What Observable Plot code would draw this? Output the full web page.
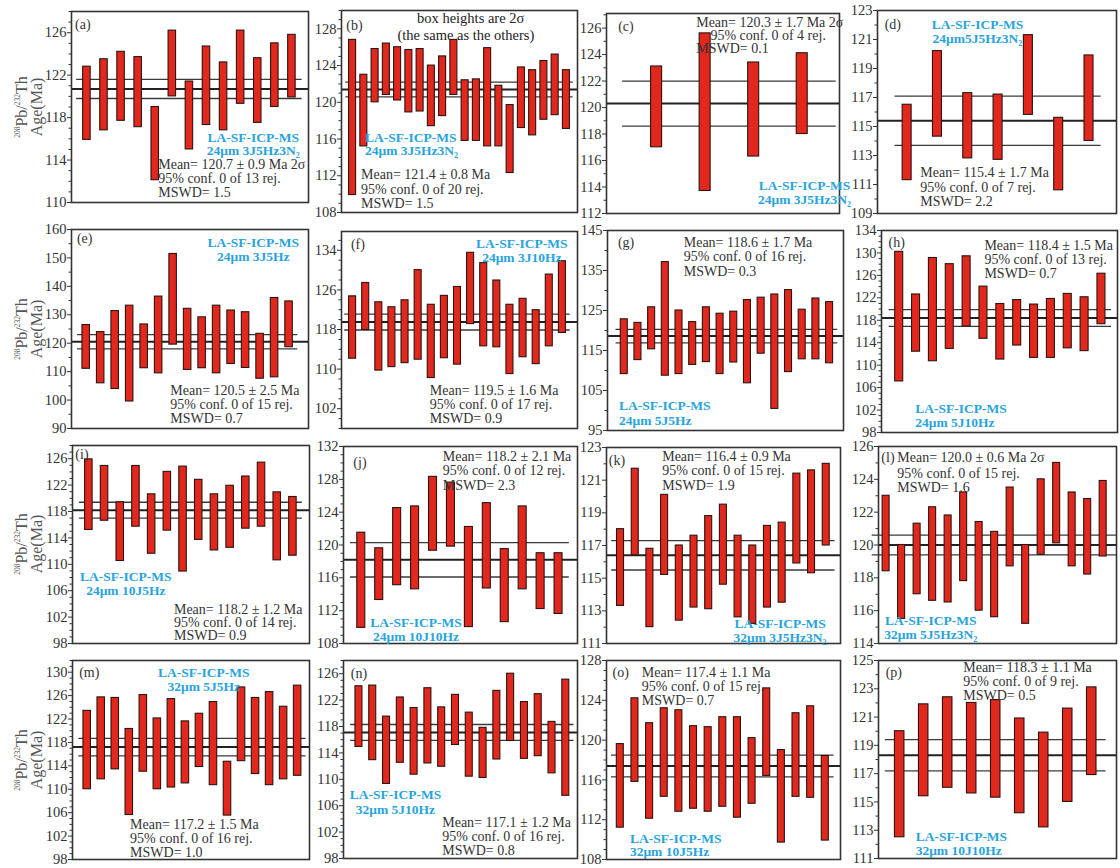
<!DOCTYPE html>
<html>
<head>
<meta charset="utf-8">
<script src="https://cdn.jsdelivr.net/npm/d3@7"></script>
<script src="https://cdn.jsdelivr.net/npm/@observablehq/plot@0.6"></script>
<style>
  body { margin: 0; background: #fff; }
  #fig { position: relative; width: 1120px; height: 868px; overflow: hidden; background: #fff;
         font-family: "Liberation Serif", "Times New Roman", serif; }
  .panel { position: absolute; }
  .panel svg { overflow: visible; }
  .ytitle { position: absolute; width: 160px; height: 32px; text-align: center; color: #555;
            font-size: 16px; line-height: 15px; transform: rotate(-90deg); white-space: nowrap; }
  .ytitle sup { font-size: 7.5px; vertical-align: 7px; }
</style>
</head>
<body>
<div id="fig"></div>
<script>
// ---- 208Pb/232Th spot ages: lower and upper ends of each 2σ box (Ma) ----
const ageA_lo = [115.9,116.8,117.7,117.1,112.1,120.0,115.0,117.3,116.8,119.3,117.5,119.0,119.9];
const ageA_hi = [122.8,123.5,124.2,123.7,119.0,126.2,121.4,124.7,123.2,126.2,123.6,125.0,125.8];
const ageB_lo = [109.9,115.2,120.0,120.8,120.2,118.9,119.0,117.4,118.5,120.8,115.8,115.8,115.2,115.2,112.3,117.2,116.4,118.1,118.6,117.1];
const ageB_hi = [126.8,123.0,125.8,126.4,126.0,125.7,125.8,124.0,125.0,126.8,122.4,122.5,125.9,121.8,119.7,123.8,123.5,124.5,125.2,123.5];
const ageC_lo = [117.0,113.7,116.3,118.0];
const ageC_hi = [123.1,125.6,123.4,124.1];
const ageD_lo = [111.3,114.3,112.8,112.7,115.8,110.6,114.0];
const ageD_hi = [116.5,120.2,117.3,117.2,121.3,115.6,119.9];
const ageE_lo = [111.0,105.9,103.9,99.5,111.2,109.4,119.5,110.6,111.2,109.4,112.7,111.3,107.5,108.0,118.6];
const ageE_hi = [126.4,123.9,131.3,133.2,126.6,136.4,151.4,132.1,129.1,133.2,131.5,130.9,123.3,135.9,134.7];
const ageF_lo = [112.1,117.9,109.7,110.4,111.2,111.9,108.2,112.2,110.9,119.1,114.6,114.4,109.0,112.4,111.0,114.6,117.3];
const ageF_hi = [124.7,127.4,123.5,122.5,123.9,130.0,123.0,124.8,126.6,133.5,131.4,127.9,123.0,124.2,121.9,129.1,131.8];
const ageG_lo = [109.1,112.6,115.3,108.7,109.1,111.4,112.1,109.1,112.0,106.8,114.2,100.4,109.6,112.8,112.8,111.8];
const ageG_hi = [122.8,121.9,125.8,137.1,125.0,122.1,125.8,124.2,124.7,127.6,128.2,129.0,130.1,125.2,128.0,127.1];
const ageH_lo = [107.1,112.4,110.7,112.9,116.9,114.7,111.0,113.5,111.3,111.3,113.0,112.5,117.3];
const ageH_hi = [130.2,122.6,129.1,128.0,129.4,124.0,120.9,121.6,120.8,121.8,122.7,122.1,126.3];
const ageI_lo = [115.2,116.6,110.5,115.7,111.6,115.1,108.9,113.7,112.1,112.5,115.4,115.7,110.6,111.3];
const ageI_hi = [125.9,124.9,119.4,124.9,120.6,124.0,124.8,122.8,120.6,121.9,123.3,125.4,120.9,120.2];
const ageJ_lo = [109.9,113.3,115.1,114.6,119.3,119.8,110.0,114.7,110.6,114.6,112.2,111.6];
const ageJ_hi = [121.5,119.6,124.5,124.7,128.3,127.6,122.2,125.1,119.5,124.7,119.0,119.0];
const ageK_lo = [113.3,116.4,112.0,115.2,112.4,113.2,113.1,114.6,112.6,112.2,113.2,113.5,115.9,115.3,117.0];
const ageK_hi = [118.0,121.7,116.8,120.1,117.0,117.6,118.8,119.5,117.6,117.0,118.2,118.4,121.4,121.6,122.0];
const ageL_lo = [118.4,115.5,117.0,116.6,116.5,117.8,116.0,115.6,118.7,115.2,119.4,120.1,118.7,118.2,119.3];
const ageL_hi = [123.0,120.0,121.3,122.3,121.8,123.2,121.4,120.8,123.5,120.0,124.0,125.0,123.2,122.8,123.9];
const ageM_lo = [110.0,111.7,113.4,105.6,113.0,110.0,110.3,111.0,113.8,110.7,105.5,114.8,112.6,110.7,111.7,112.3];
const ageM_hi = [123.4,125.7,125.6,120.3,126.1,122.1,125.4,121.6,122.9,124.9,114.7,127.4,125.6,126.6,124.1,127.7];
const ageN_lo = [114.9,112.9,109.3,112.5,110.7,112.4,111.9,115.2,110.4,110.2,113.0,115.8,113.1,113.5,110.9,107.5];
const ageN_hi = [124.1,124.2,119.5,122.4,120.8,123.8,120.9,122.8,120.1,117.8,123.4,126.0,121.7,122.9,118.7,125.1];
const ageO_lo = [111.2,115.8,112.1,114.3,112.8,113.1,112.8,113.3,112.2,113.6,116.4,109.7,114.3,114.2,109.9];
const ageO_hi = [119.6,124.2,121.7,123.2,123.0,121.4,121.3,122.3,122.3,120.2,125.2,119.0,122.7,123.4,118.4];
const ageP_lo = [112.5,115.4,116.0,115.6,115.3,114.2,113.2,115.0,116.9];
const ageP_hi = [120.0,121.9,122.4,122.0,122.2,120.9,119.9,121.6,123.1];

// ---- weighted means, their errors and MSWD ----
const weightedMean = [120.7,121.4,120.3,115.4,120.5,119.5,118.6,118.4,118.2,118.2,116.4,120.0,117.2,117.1,117.4,118.3];
const meanError    = [0.9,0.8,1.7,1.7,2.5,1.6,1.7,1.5,1.2,2.1,0.9,0.6,1.5,1.2,1.1,1.1];
const mswd         = [1.5,1.5,0.1,2.2,0.7,0.9,0.3,0.7,0.9,2.3,1.9,1.6,1.0,0.8,0.7,0.5];
const twoSigmaTag  = [true,false,true,false,false,false,false,false,false,false,false,true,false,false,false,false];

// ---- analytical conditions ----
const methodLine = "LA-SF-ICP-MS";
const conditions = ["24μm 3J5Hz3N₂","24μm 3J5Hz3N₂","24μm 3J5Hz3N₂","24μm5J5Hz3N₂",
                    "24μm 3J5Hz","24μm 3J10Hz","24μm 5J5Hz","24μm 5J10Hz",
                    "24μm 10J5Hz","24μm 10J10Hz","32μm 3J5Hz3N₂","32μm 5J5Hz3N₂",
                    "32μm 5J5Hz","32μm 5J10Hz","32μm 10J5Hz","32μm 10J10Hz"];
const panelLetters = ["a","b","c","d","e","f","g","h","i","j","k","l","m","n","o","p"];

// ---- y tick labels and axis extents ----
const ticksA = [110,114,118,122,126],             domainA = [110,128];
const ticksB = [108,112,116,120,124,128],         domainB = [108,130];
const ticksC = [112,114,116,118,120,122,124,126], domainC = [112,127.1];
const ticksD = [109,111,113,115,117,119,121,123], domainD = [109,123];
const ticksE = [90,100,110,120,130,140,150,160],  domainE = [90,160];
const ticksF = [102,110,118,126,134],             domainF = [98,137.8];
const ticksG = [95,105,115,125,135,145],          domainG = [95,145];
const ticksH = [98,102,106,110,114,118,122,126,130,134], domainH = [98,134];
const ticksI = [98,102,106,110,114,118,122,126],  domainI = [98,128];
const ticksJ = [108,112,116,120,124,128,132],     domainJ = [108,132];
const ticksK = [111,113,115,117,119,121,123],     domainK = [111,123];
const ticksL = [114,116,118,120,122,124,126],     domainL = [114,126];
const ticksM = [98,102,106,110,114,118,122,126,130], domainM = [98,132];
const ticksN = [98,102,106,110,114,118,122,126],  domainN = [98,128];
const ticksO = [108,112,116,120,124,128],         domainO = [108,128];
const ticksP = [111,113,115,117,119,121,123,125], domainP = [111,125];

const SERIF = '"Liberation Serif","Times New Roman",serif';
const RED = "#e2271d";
const BLUE = "#28a3dd";
const INK = "#333";

// Page layout of each panel: frame box [left, right, top, bottom] in px,
// first/last box position as a fraction of the frame width, box width,
// and where the annotations sit (fractions of the frame).
const layout = [
  {lo: ageA_lo, hi: ageA_hi, ticks: ticksA, domain: domainA, box: [71,308,11,202], bars: [0.065,0.93], barW: 7.5,
   letter: [0.015,0.066], method: {fx: 0.767, fy: [0.66,0.73], anchor: "middle"}, stats: {fx: [0.366,0.366,0.366], fy: [0.80,0.875,0.95]}},
  {lo: ageB_lo, hi: ageB_hi, ticks: ticksB, domain: domainB, box: [341,577,10,212], bars: [0.047,0.953], barW: 7,
   letter: [0.02,0.075], method: {fx: 0.1, fy: [0.628,0.694], anchor: "start"}, stats: {fx: [0.083,0.083,0.083], fy: [0.81,0.885,0.955]},
   extra: [{t: "box heights are 2σ", fx: 0.32, fy: 0.038}, {t: "(the same as the others)", fx: 0.237, fy: 0.125}]},
  {lo: ageC_lo, hi: ageC_hi, ticks: ticksC, domain: domainC, box: [606,839,13,213], bars: [0.215,0.84], barW: 11, errPad: 0.7,
   letter: [0.05,0.066], method: {fx: 0.85, fy: [0.86,0.93], anchor: "middle"}, stats: {fx: [0.385,0.446,0.385], fy: [0.045,0.11,0.177]}},
  {lo: ageD_lo, hi: ageD_hi, ticks: ticksD, domain: domainD, box: [877,1116,10,213], bars: [0.124,0.885], barW: 9, errPad: 0.4,
   letter: [0.03,0.069], method: {fx: 0.418, fy: [0.069,0.139], anchor: "middle"}, stats: {fx: [0.179,0.179,0.179], fy: [0.80,0.87,0.943]}},
  {lo: ageE_lo, hi: ageE_hi, ticks: ticksE, domain: domainE, box: [71,308,229,428], bars: [0.062,0.918], barW: 7.5,
   letter: [0.023,0.045], method: {fx: 0.767, fy: [0.065,0.137], anchor: "middle"}, stats: {fx: [0.417,0.417,0.417], fy: [0.81,0.88,0.95]}},
  {lo: ageF_lo, hi: ageF_hi, ticks: ticksF, domain: domainF, box: [341,577,231,428], bars: [0.047,0.936], barW: 7,
   letter: [0.04,0.065], method: {fx: 0.764, fy: [0.06,0.132], anchor: "middle"}, stats: {fx: [0.374,0.374,0.374], fy: [0.805,0.878,0.95]}},
  {lo: ageG_lo, hi: ageG_hi, ticks: ticksG, domain: domainG, box: [607,843,230,430], bars: [0.071,0.941], barW: 7,
   letter: [0.044,0.06], method: {fx: 0.049, fy: [0.876,0.95], anchor: "start"}, stats: {fx: [0.323,0.323,0.323], fy: [0.06,0.129,0.204]}},
  {lo: ageH_lo, hi: ageH_hi, ticks: ticksH, domain: domainH, box: [881,1117,230,432], bars: [0.075,0.932], barW: 8,
   letter: [0.03,0.06], method: {fx: 0.143, fy: [0.88,0.95], anchor: "start"}, stats: {fx: [0.436,0.436,0.436], fy: [0.075,0.145,0.215]}},
  {lo: ageI_lo, hi: ageI_hi, ticks: ticksI, domain: domainI, box: [72,309,445,643], bars: [0.069,0.93], barW: 7.5,
   letter: [0.012,0.045], method: {fx: 0.225, fy: [0.665,0.735], anchor: "middle"}, stats: {fx: [0.428,0.428,0.428], fy: [0.83,0.895,0.96]}},
  {lo: ageJ_lo, hi: ageJ_hi, ticks: ticksJ, domain: domainJ, box: [343,577,446,643], bars: [0.076,0.919], barW: 8,
   letter: [0.042,0.079], method: {fx: 0.31, fy: [0.896,0.966], anchor: "middle"}, stats: {fx: [0.424,0.424,0.424], fy: [0.05,0.123,0.197]}},
  {lo: ageK_lo, hi: ageK_hi, ticks: ticksK, domain: domainK, box: [606,840,447,643], bars: [0.06,0.939], barW: 7,
   letter: [0.01,0.064], method: {fx: 0.742, fy: [0.9,0.97], anchor: "middle"}, stats: {fx: [0.238,0.238,0.238], fy: [0.047,0.118,0.194]}},
  {lo: ageL_lo, hi: ageL_hi, ticks: ticksL, domain: domainL, box: [878,1116,446,643], bars: [0.032,0.944], barW: 7, errPad: 0.9,
   letter: [0.012,0.055], method: {fx: 0.22, fy: [0.886,0.957], anchor: "middle"}, stats: {fx: [0.079,0.079,0.079], fy: [0.055,0.139,0.209]}},
  {lo: ageM_lo, hi: ageM_hi, ticks: ticksM, domain: domainM, box: [72,309,660,859], bars: [0.062,0.95], barW: 7.5,
   letter: [0.028,0.06], method: {fx: 0.554, fy: [0.06,0.133], anchor: "middle"}, stats: {fx: [0.243,0.243,0.243], fy: [0.825,0.895,0.965]}},
  {lo: ageN_lo, hi: ageN_hi, ticks: ticksN, domain: domainN, box: [343,577,660,858], bars: [0.066,0.95], barW: 7,
   letter: [0.031,0.065], method: {fx: 0.222, fy: [0.68,0.755], anchor: "middle"}, stats: {fx: [0.422,0.422,0.422], fy: [0.82,0.89,0.96]}},
  {lo: ageO_lo, hi: ageO_hi, ticks: ticksO, domain: domainO, box: [606,840,660,859], bars: [0.059,0.935], barW: 7,
   letter: [0.026,0.058], method: {fx: 0.1, fy: [0.897,0.963], anchor: "start"}, stats: {fx: [0.151,0.151,0.151], fy: [0.058,0.13,0.2]}},
  {lo: ageP_lo, hi: ageP_hi, ticks: ticksP, domain: domainP, box: [878,1116,660,858], bars: [0.089,0.896], barW: 9.5,
   letter: [0.03,0.06], method: {fx: 0.156, fy: [0.89,0.962], anchor: "start"}, stats: {fx: [0.356,0.356,0.356], fy: [0.033,0.107,0.175]}}
];

const fig = document.getElementById("fig");

function note(text, fx, fy, W, H, opts = {}) {
  return Plot.text([text], {
    frameAnchor: "top-left", dx: fx * W, dy: fy * H,
    textAnchor: opts.anchor || "start", lineAnchor: "middle",
    fontSize: opts.size || 14, fontWeight: opts.weight || "normal",
    fill: opts.color || INK, fontFamily: SERIF
  });
}

layout.forEach((p, k) => {
  const [x0, x1, y0, y1] = p.box;
  const W = x1 - x0, H = y1 - y0;
  const mL = 42, mR = 3, mT = 10, mB = 10;
  const n = p.lo.length;
  const step = (p.bars[1] - p.bars[0]) / (n - 1);
  const xlo = 1 - p.bars[0] / step, xhi = n + (1 - p.bars[1]) / step;
  const pxPerUnit = W / (xhi - xlo);
  const inset = Math.max(0, (pxPerUnit - p.barW) / 2);
  const rows = p.lo.map((v, i) => ({i: i + 1, lo: v, hi: p.hi[i]}));

  // minor ticks between the labelled ones
  const tStep = p.ticks[1] - p.ticks[0];
  const div = tStep % 4 === 0 ? 4 : 2;
  const minor = d3.range(p.domain[0], p.domain[1] + 1e-9, tStep / div)
    .filter(t => !p.ticks.some(v => Math.abs(v - t) < 1e-6));
  const mean = weightedMean[k], err = meanError[k];
  const e = p.errPad ?? 0.6;

  const statText = [
    `Mean= ${mean.toFixed(1)} ± ${err.toFixed(1)} Ma${twoSigmaTag[k] ? " 2σ" : ""}`,
    `95% conf. 0 of ${n} rej.`,
    `MSWD= ${mswd[k].toFixed(1)}`
  ];

  const marks = [
    Plot.axisY({ticks: p.ticks, tickSize: 4, tickPadding: 1, fontSize: 14.5, fontFamily: SERIF, label: null, color: INK}),
    Plot.axisY({ticks: minor, tickSize: 2.5, tickFormat: () => "", label: null, color: INK}),
    Plot.ruleY([mean - err, mean + err], {x1: 1 - e, x2: n + e, stroke: "#3a3a3a", strokeWidth: 1.3}),
    Plot.ruleY([mean], {stroke: "#222", strokeWidth: 2}),
    Plot.rect(rows, {x1: d => d.i - 0.5, x2: d => d.i + 0.5, y1: "lo", y2: "hi",
                     insetLeft: inset, insetRight: inset,
                     fill: RED, stroke: "#2b1512", strokeWidth: 1.1}),
    Plot.frame({stroke: INK, strokeWidth: 1.6}),
    note(`(${panelLetters[k]})`, p.letter[0], p.letter[1], W, H),
    note(methodLine, p.method.fx, p.method.fy[0], W, H, {anchor: p.method.anchor, weight: "bold", color: BLUE, size: 13.5}),
    note(conditions[k], p.method.fx, p.method.fy[1], W, H, {anchor: p.method.anchor, weight: "bold", color: BLUE, size: 13.5}),
    ...statText.map((s, j) => note(s, p.stats.fx[j], p.stats.fy[j], W, H)),
    ...(p.extra || []).map(x => note(x.t, x.fx, x.fy, W, H, {size: 14.5, color: "#222"}))
  ];

  const svg = Plot.plot({
    width: W + mL + mR, height: H + mT + mB,
    marginLeft: mL, marginRight: mR, marginTop: mT, marginBottom: mB,
    style: {background: "transparent", overflow: "visible", maxWidth: "none", fontFamily: SERIF, color: INK},
    x: {domain: [xlo, xhi], axis: null},
    y: {domain: p.domain, axis: null},
    marks
  });
  const holder = document.createElement("div");
  holder.className = "panel";
  holder.style.left = (x0 - mL) + "px";
  holder.style.top = (y0 - mT) + "px";
  holder.style.width = (W + mL + mR) + "px";
  holder.appendChild(svg);
  fig.appendChild(holder);

  // y-axis title beside the first column
  if (k % 4 === 0) {
    const t = document.createElement("div");
    t.className = "ytitle";
    t.innerHTML = "<sup>208</sup>Pb/<sup>232</sup>Th<br>Age(Ma)";
    const cy = (y0 + y1) / 2;
    t.style.left = (26 - 80) + "px";
    t.style.top = (cy - 16) + "px";
    fig.appendChild(t);
  }
});
</script>
</body>
</html>
